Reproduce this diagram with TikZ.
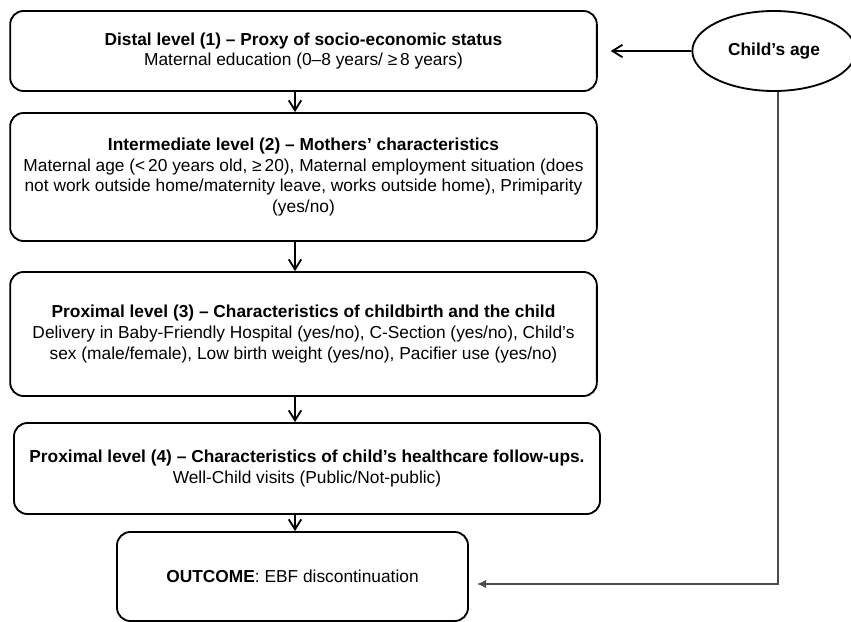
\documentclass[tikz,border=0pt]{standalone}
\usepackage{fontspec}
\setmainfont{Liberation Sans}
\usetikzlibrary{arrows.meta,shapes.geometric}
\begin{document}
\begin{tikzpicture}[x=0.6pt,y=-0.6pt,>={Straight Barb[length=6pt,width=7.5pt]},
    level/.style={draw,line width=1.1pt,rounded corners=8pt,align=center,inner sep=0pt,
      minimum width=352pt,font=\fontsize{10.4}{12.4}\selectfont},
    link/.style={->,line width=1.1pt},
    feed/.style={draw=black!70,line width=0.8pt,-{Latex[length=5.5pt,width=5pt]}}]
      \useasboundingbox (0,0) rectangle (851,622);
      \node[level,minimum height=48pt] (distal) at (303.5,51)
        {\textbf{Distal level (1) – Proxy of socio-economic status}\\
         Maternal education (0–8 years/ ≥\,8 years)};
      \node[level,minimum height=76.8pt] (inter) at (303.5,177)
        {\textbf{Intermediate level (2) – Mothers’ characteristics}\\
         Maternal age (<\,20 years old, ≥\,20), Maternal employment situation (does\\
         not work outside home/maternity leave, works outside home), Primiparity\\
         (yes/no)};
      \node[level,minimum height=74.4pt] (birth) at (303.5,334)
        {\textbf{Proximal level (3) – Characteristics of childbirth and the child}\\
         Delivery in Baby-Friendly Hospital (yes/no), C-Section (yes/no), Child’s\\
         sex (male/female), Low birth weight (yes/no), Pacifier use (yes/no)};
      \node[level,minimum width=351.6pt,minimum height=54.6pt] (care) at (307,468.5)
        {\textbf{Proximal level (4) – Characteristics of child’s healthcare follow-ups.}\\
         Well-Child visits (Public/Not-public)};
      \node[level,minimum width=210.6pt,minimum height=53.4pt] (outcome) at (292.5,576.5)
        {\textbf{OUTCOME}: EBF discontinuation};
      \node[draw,ellipse,line width=1.1pt,inner sep=0pt,minimum width=98pt,minimum height=48pt,
        font=\fontsize{10.4}{12.4}\selectfont\bfseries] (age) at (774,51) {Child’s age};
      \coordinate (ax) at (295,0);
      \coordinate (turn) at (778,584);
      \draw[link] (distal.south -| ax) -- (inter.north -| ax);
      \draw[link] (inter.south -| ax) -- (birth.north -| ax);
      \draw[link] (birth.south -| ax) -- (care.north -| ax);
      \draw[link] (care.south -| ax) -- (outcome.north -| ax);
      \draw[link,shorten >=7.8pt] (age) -- (distal);
      \draw[feed,shorten >=4.8pt] (age.south -| turn) -- (turn) -- (outcome.east |- turn);
    \end{tikzpicture}
\end{document}
